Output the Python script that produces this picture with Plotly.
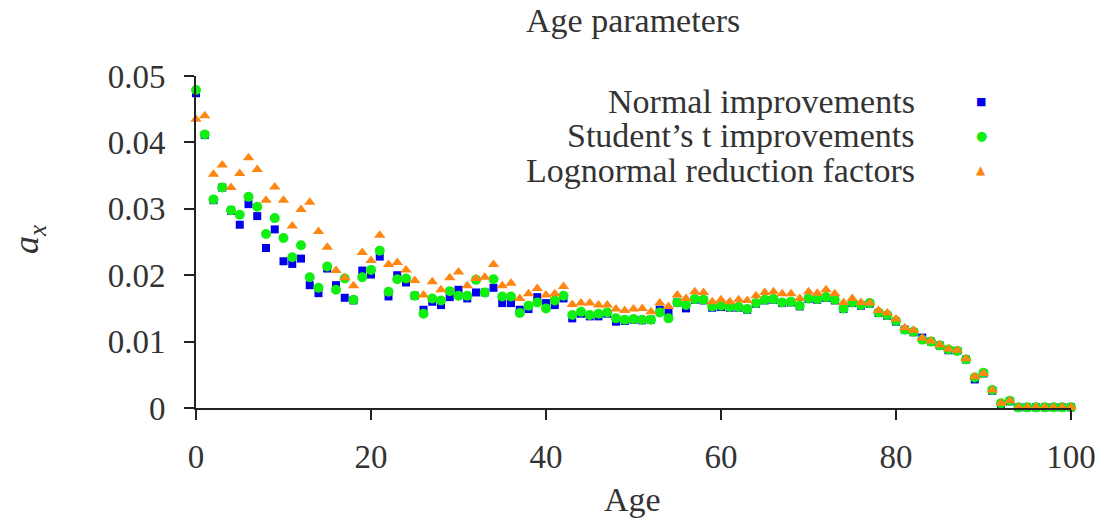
import plotly.graph_objects as go

ages = list(range(0, 101))

normal = [
    0.0474, 0.0411, 0.0313, 0.0332, 0.0297, 0.0276, 0.0307, 0.0289, 0.0241, 0.0269,
    0.0221, 0.0217, 0.0225, 0.0185, 0.0173, 0.0210, 0.0185, 0.0166, 0.0162, 0.0207,
    0.0201, 0.0228, 0.0168, 0.0200, 0.0189, 0.0169, 0.0148, 0.0160, 0.0155, 0.0167,
    0.0178, 0.0165, 0.0174, 0.0174, 0.0181, 0.0158, 0.0158, 0.0148, 0.0149, 0.0167,
    0.0158, 0.0155, 0.0165, 0.0135, 0.0142, 0.0138, 0.0138, 0.0142, 0.0130, 0.0131,
    0.0133, 0.0132, 0.0133, 0.0148, 0.0143, 0.0159, 0.0150, 0.0163, 0.0162, 0.0151,
    0.0152, 0.0151, 0.0151, 0.0148, 0.0157, 0.0162, 0.0163, 0.0158, 0.0159, 0.0153,
    0.0164, 0.0163, 0.0166, 0.0162, 0.0149, 0.0158, 0.0154, 0.0157, 0.0143, 0.0139,
    0.0130, 0.0118, 0.0114, 0.0106, 0.0100, 0.0094, 0.0087, 0.0086, 0.0073, 0.0043,
    0.0052, 0.0026, 0.0006, 0.0010, 0.0001, 0.0001, 0.0001, 0.0001, 0.0001, 0.0001,
    0.0001,
]

student = [
    0.0479, 0.0412, 0.0314, 0.0332, 0.0298, 0.0291, 0.0318, 0.0303, 0.0262, 0.0286,
    0.0256, 0.0227, 0.0245, 0.0197, 0.0181, 0.0213, 0.0178, 0.0195, 0.0163, 0.0197,
    0.0208, 0.0237, 0.0175, 0.0194, 0.0195, 0.0169, 0.0142, 0.0165, 0.0162, 0.0176,
    0.0169, 0.0169, 0.0193, 0.0174, 0.0194, 0.0168, 0.0168, 0.0143, 0.0154, 0.0159,
    0.0150, 0.0162, 0.0169, 0.0140, 0.0145, 0.0140, 0.0142, 0.0144, 0.0135, 0.0133,
    0.0134, 0.0133, 0.0133, 0.0144, 0.0135, 0.0159, 0.0155, 0.0164, 0.0163, 0.0153,
    0.0154, 0.0152, 0.0152, 0.0149, 0.0158, 0.0163, 0.0164, 0.0159, 0.0160, 0.0154,
    0.0165, 0.0164, 0.0167, 0.0163, 0.0150, 0.0159, 0.0155, 0.0158, 0.0144, 0.0140,
    0.0131, 0.0118, 0.0115, 0.0103, 0.0100, 0.0094, 0.0088, 0.0086, 0.0073, 0.0046,
    0.0053, 0.0027, 0.0007, 0.0011, 0.0001, 0.0001, 0.0001, 0.0001, 0.0001, 0.0001,
    0.0001,
]

lognormal = [
    0.0435, 0.0440, 0.0352, 0.0366, 0.0332, 0.0353, 0.0377, 0.0359, 0.0313, 0.0333,
    0.0313, 0.0274, 0.0299, 0.0310, 0.0266, 0.0242, 0.0207, 0.0196, 0.0184, 0.0234,
    0.0222, 0.0260, 0.0216, 0.0219, 0.0208, 0.0192, 0.0170, 0.0190, 0.0178, 0.0196,
    0.0205, 0.0184, 0.0195, 0.0197, 0.0216, 0.0184, 0.0188, 0.0165, 0.0172, 0.0180,
    0.0170, 0.0172, 0.0183, 0.0156, 0.0158, 0.0158, 0.0155, 0.0155, 0.0149, 0.0147,
    0.0149, 0.0150, 0.0145, 0.0158, 0.0153, 0.0170, 0.0165, 0.0175, 0.0174, 0.0160,
    0.0163, 0.0160, 0.0163, 0.0162, 0.0169, 0.0174, 0.0175, 0.0172, 0.0172, 0.0165,
    0.0175, 0.0173, 0.0178, 0.0172, 0.0159, 0.0165, 0.0159, 0.0158, 0.0147, 0.0143,
    0.0134, 0.0121, 0.0117, 0.0105, 0.0101, 0.0095, 0.0089, 0.0087, 0.0074, 0.0047,
    0.0052, 0.0027, 0.0007, 0.0011, 0.0001, 0.0001, 0.0001, 0.0001, 0.0001, 0.0001,
    0.0001,
]

series_names = ["Normal improvements", "Student\u2019s t improvements", "Lognormal reduction factors"]
x_ticks = [0, 20, 40, 60, 80, 100]
y_ticks = [0, 0.01, 0.02, 0.03, 0.04, 0.05]
y_tick_text = ["0", "0.01", "0.02", "0.03", "0.04", "0.05"]

BLUE = "#0000ee"
GREEN = "#11ee11"
ORANGE = "#ff8612"
FONT = "Liberation Serif"
TXT = "#333333"
FS = 33
FS_BIG = 34

fig = go.Figure()
fig.add_trace(go.Scatter(x=ages, y=normal, mode="markers", name=series_names[0],
                         marker=dict(symbol="square", size=8, color=BLUE, line=dict(width=0)),
                         cliponaxis=False, showlegend=False))
fig.add_trace(go.Scatter(x=ages, y=student, mode="markers", name=series_names[1],
                         marker=dict(symbol="circle", size=10, color=GREEN, line=dict(width=0)),
                         cliponaxis=False, showlegend=False))
fig.add_trace(go.Scatter(x=ages, y=lognormal, mode="markers", name=series_names[2],
                         marker=dict(symbol="triangle-up", size=10, color=ORANGE, line=dict(width=0)),
                         cliponaxis=False, showlegend=False))

L, R, T, B = 196, 30, 76, 112
W, H = 1101, 520
pw, ph = W - L - R, H - T - B

def px_x(px):
    return (px - L) / pw

def px_y(py):
    return (H - B - py) / ph

annotations = [
    dict(text="Age parameters", x=px_x(633), y=px_y(21), xref="paper", yref="paper",
         showarrow=False, font=dict(family=FONT, size=FS_BIG, color=TXT), xanchor="center", yanchor="middle"),
    dict(text="Age", x=px_x(632), y=px_y(500), xref="paper", yref="paper",
         showarrow=False, font=dict(family=FONT, size=FS_BIG, color=TXT), xanchor="center", yanchor="middle"),
    dict(text="<i>a</i><sub><i>x</i></sub>", x=px_x(28), y=px_y(240), xref="paper", yref="paper",
         textangle=-90, showarrow=False, font=dict(family=FONT, size=36, color=TXT),
         xanchor="center", yanchor="middle"),
]
legend_rows = [101, 135, 170]
legend_syms = ["\u25A0", "\u25CF", "\u25B2"]
legend_sym_sizes = [11, 13, 12]
legend_cols = [BLUE, GREEN, ORANGE]
for name, row, sym, ssz, col in zip(series_names, legend_rows, legend_syms, legend_sym_sizes, legend_cols):
    annotations.append(dict(text=name, x=px_x(917), y=px_y(row), xref="paper", yref="paper",
                            showarrow=False, font=dict(family=FONT, size=FS_BIG, color=TXT),
                            xanchor="right", yanchor="middle"))
    annotations.append(dict(text=sym, x=px_x(981), y=px_y(row), xref="paper", yref="paper",
                            showarrow=False, font=dict(family="DejaVu Sans", size=ssz, color=col),
                            xanchor="center", yanchor="middle"))

fig.update_layout(
    width=W, height=H,
    margin=dict(l=L, r=R, t=T, b=B, pad=0),
    paper_bgcolor="white", plot_bgcolor="white",
    showlegend=False,
    font=dict(family=FONT, size=FS, color=TXT),
    annotations=annotations,
)
fig.update_xaxes(range=[0, 100], tickvals=x_ticks, ticks="outside", ticklen=10, tickwidth=2,
                 tickcolor="#222222", showline=True, linecolor="#222222", linewidth=2,
                 showgrid=False, zeroline=False, ticklabelstandoff=8, automargin=False,
                 tickfont=dict(family=FONT, size=FS, color=TXT))
fig.update_yaxes(range=[0, 0.05], tickvals=y_ticks, ticktext=y_tick_text, ticks="outside",
                 ticklen=10, tickwidth=2, tickcolor="#222222", showline=True, linecolor="#222222",
                 linewidth=2, showgrid=False, zeroline=False, ticklabelstandoff=12, automargin=False,
                 tickfont=dict(family=FONT, size=FS, color=TXT))

fig.write_html("out.html")
